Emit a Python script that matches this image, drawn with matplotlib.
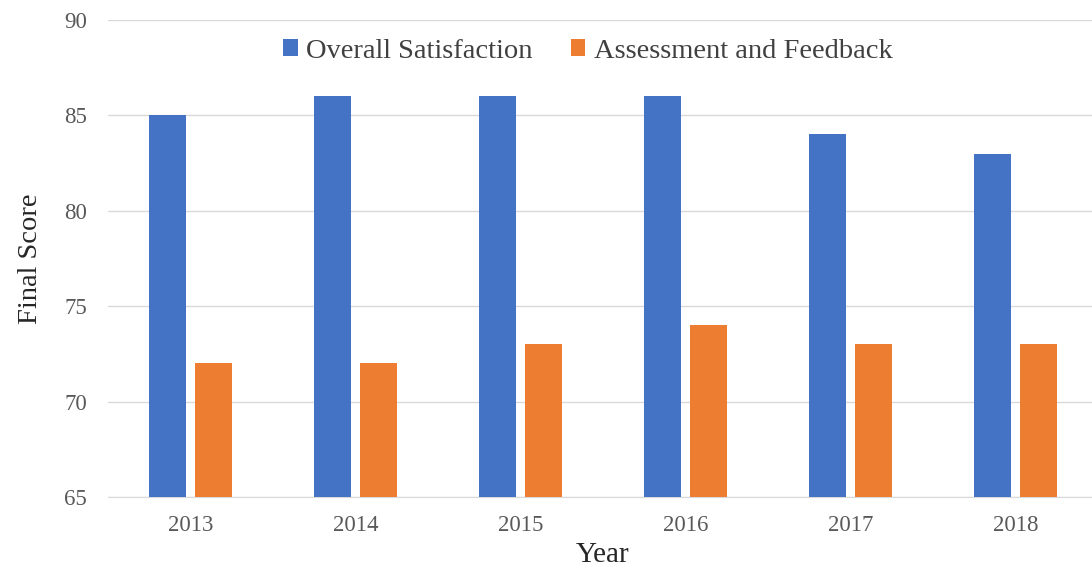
import matplotlib.pyplot as plt
import numpy as np

years = ['2013', '2014', '2015', '2016', '2017', '2018']
overall = [85, 86, 86, 86, 84, 83]
assessment = [72, 72, 73, 74, 73, 73]

plt.rcParams['font.family'] = ['Liberation Serif', 'DejaVu Serif']

fig = plt.figure(figsize=(10.92, 5.75), dpi=100)
ax = fig.add_axes([108 / 1092, 1 - 497 / 575, 990 / 1092, 477 / 575])

x = np.arange(len(years))
w = 0.224
ax.bar(x - 0.142, overall, w, color='#4472C4', label='Overall Satisfaction', zorder=3)
ax.bar(x + 0.142, assessment, w, color='#ED7D31', label='Assessment and Feedback', zorder=3)

ax.set_ylim(65, 90)
ax.set_yticks([65, 70, 75, 80, 85, 90])
ax.set_xlim(-0.5, len(years) - 0.5)
ax.set_xticks(x)
ax.set_xticklabels(years)
ax.grid(axis='y', color='#D9D9D9', linewidth=1, zorder=0)
for s in ['top', 'right', 'left']:
    ax.spines[s].set_visible(False)
ax.spines['bottom'].set_color('#D9D9D9')
ax.tick_params(axis='both', length=0, labelsize=16.5, colors='#595959')
ax.tick_params(axis='x', pad=13)
ax.tick_params(axis='y', pad=15)

ax.set_xlabel('Year', fontsize=21, color='#262626')
ax.set_ylabel('Final Score', fontsize=20.5, color='#262626')
ax.xaxis.set_label_coords(0.5, -0.094)
ax.yaxis.set_label_coords(-0.066, 0.5)

ax.legend(loc='center', bbox_to_anchor=(0.5 - 15 / 990, 1 - 31 / 477), ncol=2, frameon=False,
          fontsize=20.5, handlelength=0.5, handleheight=0.5, handletextpad=0.3,
          columnspacing=1.35, labelcolor='#404040')

fig.savefig('out.png', dpi=100)
